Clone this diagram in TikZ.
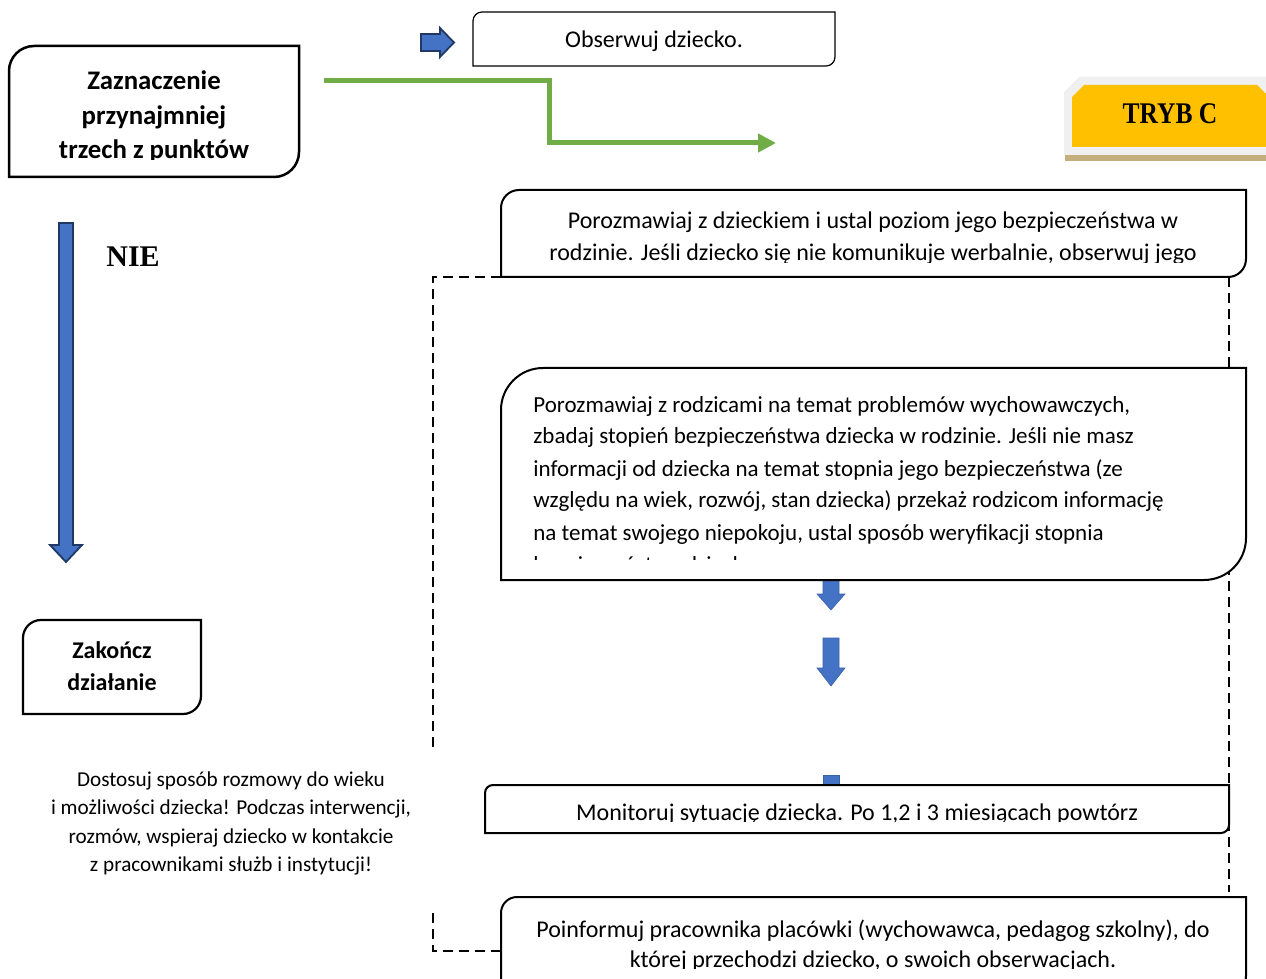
\documentclass[tikz,border=0pt]{standalone}
\usepackage{fontspec}
\usepackage{graphicx}
\setmainfont{Carlito}
\newfontfamily\tnrfont{Liberation Serif}
\usetikzlibrary{arrows.meta}
\definecolor{bblue}{HTML}{4472C4}
\definecolor{dblue}{HTML}{203864}
\definecolor{ggreen}{HTML}{70AD47}
\definecolor{gold}{HTML}{FFC000}
\definecolor{tanbar}{HTML}{C4AE7E}
\definecolor{lgray}{HTML}{F0F0F0}
% box with rounded top-left and bottom-right corners: style, x1, y1, x2, y2, r
\newcommand\myrbox[6]{%
  \draw[#1] (#2,#5) -- (#2,{#3+#6})
    .. controls (#2,{#3+0.448*#6}) and ({#2+0.448*#6},#3) .. ({#2+#6},#3)
    -- (#4,#3) -- (#4,{#5-#6})
    .. controls (#4,{#5-0.448*#6}) and ({#4-0.448*#6},#5) .. ({#4-#6},#5)
    -- cycle;}
\begin{document}
\begin{tikzpicture}[x=0.5pt,y=-0.5pt,
  frame/.style={draw=black,line width=1pt,fill=white},
  txt/.style={inner sep=0pt,anchor=base,font=\fontsize{12}{16}\selectfont},
  ctxt/.style={inner sep=0pt,anchor=base west,font=\fontsize{11.5}{16}\selectfont},
  btxt/.style={inner sep=0pt,anchor=base,font=\bfseries\fontsize{13.4}{17}\selectfont},
  ztxt/.style={inner sep=0pt,anchor=base,font=\bfseries\fontsize{12}{16}\selectfont},
  ntxt/.style={inner sep=0pt,anchor=base,font=\fontsize{10.6}{14}\selectfont},
  barrow/.style={fill=bblue,draw=dblue,line width=0.9pt,line join=miter},
  sarrow/.style={fill=bblue,draw=bblue!85!black,line width=0.3pt},
  dashframe/.style={draw=black,line width=0.6pt,dash pattern=on 5pt off 3pt}
]
\clip (0,0) rectangle (1266,979);

% ---------- box A ----------
\myrbox{frame,line width=1.25pt}{9}{46}{299}{177}{25}
\begin{scope}
  \clip (9,46) rectangle (299,160);
  \node[btxt] (a1) at (154,90) {Zaznaczenie};
  \node[btxt] (a2) at (154,125) {przynajmniej};
  \node[btxt] (a3) at (154,159) {trzech z punktów};
\end{scope}

% ---------- small right arrow ----------
\draw[barrow] (421,34) -- (440,34) -- (440,28) -- (454,42.5) -- (440,57) -- (440,51) -- (421,51) -- cycle;

% ---------- Obserwuj ----------
\myrbox{frame,line width=0.6pt}{473}{12}{835}{66}{9}
\node[txt] (obs) at (654,48) {Obserwuj dziecko.};

% ---------- green connector ----------
\coordinate (g0) at (324,81);
\coordinate (g1) at (549,81);
\coordinate (g2) at (549,143);
\coordinate (g3) at (776,143);
\draw[ggreen,line width=2.5pt,line join=miter,-{Triangle[length=9pt,width=9pt]}] (g0) -- (g1) -- (g2) -- (g3);

% ---------- TRYB C badge ----------
\fill[lgray] (1064,155) -- (1064,92) -- (1079,77) -- (1266,77) -- (1266,155) -- cycle;
\fill[gold] (1072,147) -- (1072,97) -- (1084,85) -- (1257,85) -- (1266,94) -- (1266,147) -- cycle;
\fill[tanbar] (1065,155) rectangle (1266,161);
\node[inner sep=0pt,anchor=base] (tryb) at (1170,124) {\tnrfont\bfseries\fontsize{15}{18}\selectfont\scalebox{0.85}[1]{TRYB C}};

% ---------- NIE + long arrow ----------
\node[inner sep=0pt,anchor=base west] (nie) at (106,267) {\tnrfont\bfseries\fontsize{15}{18}\selectfont NIE};
\draw[barrow] (59,223) -- (73,223) -- (73,545) -- (82,545) -- (66,562) -- (50,545) -- (59,545) -- cycle;

% ---------- Zakończ ----------
\myrbox{frame,line width=1.1pt}{23}{620}{201}{714}{18}
\node[ztxt] (z1) at (112,658) {Zakończ};
\node[ztxt] (z2) at (112,690) {działanie};

% ---------- note ----------
\node[ntxt] (n1) at (231,786) {Dostosuj sposób rozmowy do wieku};
\node[ntxt] (n2) at (231,814) {i możliwości dziecka! Podczas interwencji,};
\node[ntxt] (n3) at (231,843) {rozmów, wspieraj dziecko w kontakcie};
\node[ntxt] (n4) at (231,871) {z pracownikami służb i instytucji!};

% ---------- dashed frame ----------
\draw[dashframe] (501,277) -- (433,277) -- (433,752);
\draw[dashframe] (433,913) -- (433,951) -- (501,951);
\draw[dashframe] (1229,277) -- (1229,892);

% ---------- small down arrows (behind boxes) ----------
\draw[sarrow] (823,575) -- (839,575) -- (839,594) -- (845,594) -- (831,610) -- (817,594) -- (823,594) -- cycle;
\draw[sarrow] (823,638) -- (839,638) -- (839,668) -- (845,668) -- (831,686) -- (817,668) -- (823,668) -- cycle;
\draw[sarrow] (823,775) rectangle (839,795);

% ---------- box B ----------
\myrbox{frame}{501}{190}{1246}{277}{18}
\begin{scope}
  \clip (501,190) rectangle (1246,262.5);
  \node[txt] (b1) at (873,229) {Porozmawiaj z dzieckiem i ustal poziom jego bezpieczeństwa w};
  \node[txt] (b2) at (873,261) {rodzinie. Jeśli dziecko się nie komunikuje werbalnie, obserwuj jego};
\end{scope}

% ---------- box C ----------
\myrbox{frame}{501}{368}{1246}{580}{42}
\begin{scope}
  \clip (501,368) rectangle (1246,559);
  \node[ctxt] (c1) at (533,412) {Porozmawiaj z rodzicami na temat problemów wychowawczych,};
  \node[ctxt] (c2) at (533,444) {zbadaj stopień bezpieczeństwa dziecka w rodzinie. Jeśli nie masz};
  \node[ctxt] (c3) at (533,476) {informacji od dziecka na temat stopnia jego bezpieczeństwa (ze};
  \node[ctxt] (c4) at (533,508) {względu na wiek, rozwój, stan dziecka) przekaż rodzicom informację};
  \node[ctxt] (c5) at (533,540) {na temat swojego niepokoju, ustal sposób weryfikacji stopnia};
  \node[ctxt] (c6) at (533,572) {bezpieczeństwa dziecka.};
\end{scope}

% ---------- box D ----------
\myrbox{frame}{485}{785}{1229}{833}{8}
\begin{scope}
  \clip (485,785) rectangle (1229,821.5);
  \node[txt] (d1) at (857,820) {Monitoruj sytuację dziecka. Po 1,2 i 3 miesiącach powtórz};
\end{scope}

% ---------- box E ----------
\myrbox{frame}{501}{897}{1246}{992}{16}
\begin{scope}
  \clip (501,897) rectangle (1246,968.5);
  \node[txt] (e1) at (873,937) {Poinformuj pracownika placówki (wychowawca, pedagog szkolny), do};
  \node[txt] (e2) at (873,967) {której przechodzi dziecko, o swoich obserwacjach.};
\end{scope}
\end{tikzpicture}
\end{document}
